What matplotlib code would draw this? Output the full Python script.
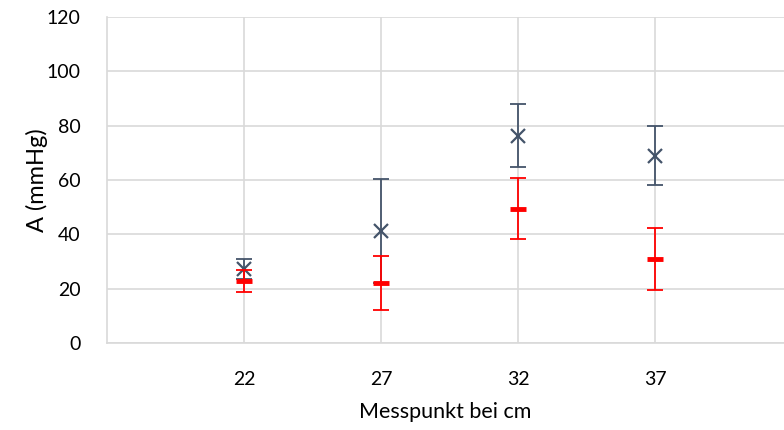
import matplotlib.pyplot as plt

# Messpunkte (cm) und Mittelwerte / Fehler
messpunkt = [22, 27, 32, 37]
blau_mittel = [27.3, 41.2, 76.3, 69.0]
blau_fehler = [3.6, 19.0, 11.5, 10.8]
rot_mittel = [22.8, 22.0, 49.4, 30.9]
rot_fehler = [4.1, 10.0, 11.3, 11.4]

plt.rcParams['font.family'] = ['Lato', 'DejaVu Sans']

fig = plt.figure(figsize=(7.84, 4.30), dpi=100)
ax = fig.add_axes([107/784, 1 - 343/430, 677/784, 326/430])

# Fehlerbalken
ax.errorbar(messpunkt, blau_mittel, yerr=blau_fehler, fmt='none',
            ecolor='#44546A', elinewidth=1.3, capsize=5.5, capthick=1.3, zorder=3)
ax.plot(messpunkt, blau_mittel, 'x', color='#44546A', markersize=10,
        markeredgewidth=1.6, zorder=3)
ax.errorbar(messpunkt, rot_mittel, yerr=rot_fehler, fmt='none',
            ecolor='#FF0000', elinewidth=1.3, capsize=5.5, capthick=1.3, zorder=4)
ax.plot(messpunkt, rot_mittel, '_', color='#FF0000', markersize=12,
        markeredgewidth=3.5, zorder=4)

ax.set_xlim(17, 17 + 677 / 27.4)
ax.set_ylim(0, 120)
ax.set_xticks(messpunkt)
ax.set_yticks(range(0, 121, 20))
ax.grid(True, color='#D9D9D9', linewidth=1.2)
ax.set_axisbelow(True)
for s in ['top', 'right']:
    ax.spines[s].set_visible(False)
for s in ['left', 'bottom']:
    ax.spines[s].set_color('#D9D9D9')
    ax.spines[s].set_linewidth(1.2)
ax.tick_params(length=0, labelsize=14, colors='#000000')
ax.tick_params(axis='y', pad=19)
ax.tick_params(axis='x', pad=20)

ax.set_xlabel('Messpunkt bei cm', fontsize=15.5, labelpad=10)
ax.set_ylabel('A (mmHg)', fontsize=17, labelpad=-1)

fig.savefig('out.png', dpi=100)
